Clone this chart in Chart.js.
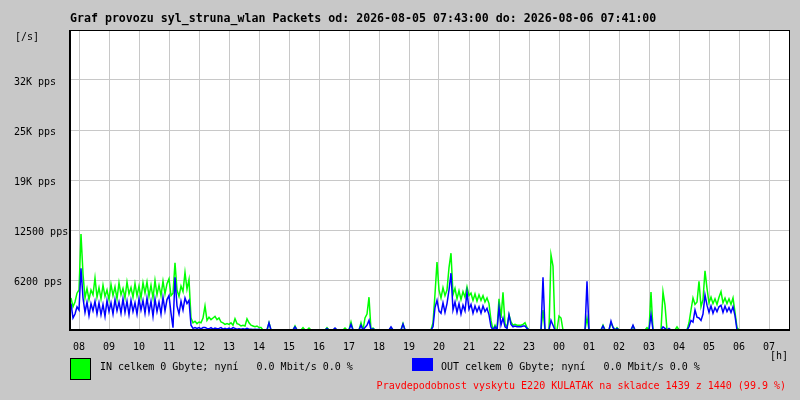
<!DOCTYPE html>
<html>
<head>
<meta charset="utf-8">
<script src="https://cdn.jsdelivr.net/npm/chart.js@4"></script>
<style>
  body { margin: 0; background: #c8c8c8; }
  canvas { display: block; }
</style>
</head>
<body>
<canvas id="trafficChart" width="800" height="400"></canvas>
<script>
// Chart data (packets per second, one sample every 4 minutes from 07:42)
const hourLabels = ['08', '09', '10', '11', '12', '13', '14', '15', '16', '17', '18', '19',
  '20', '21', '22', '23', '00', '01', '02', '03', '04', '05', '06', '07']
const yTickLabels = ['', '6200 pps', '12500 pps', '19K pps', '25K pps', '32K pps', '']

const inPackets = [
  4000, 2900, 3500, 4600, 5000, 12000, 7000, 4000, 5200, 3800,
  5000, 4400, 6500, 4100, 5300, 3900, 5600, 4200, 5000, 3800,
  5700, 4300, 5400, 3900, 5900, 4400, 5200, 4000, 6000, 4500,
  5300, 4100, 5800, 4300, 5500, 4000, 5900, 4600, 6000, 4200,
  5600, 4000, 6200, 4400, 5600, 4300, 6100, 4500, 5800, 6400,
  4300, 4600, 8400, 5000, 4200, 5500, 4800, 7200, 5100, 6300,
  1500, 900, 1100, 800, 1000, 900, 1500, 3000, 1200, 1600,
  1300, 1500, 1700, 1300, 1500, 1000, 900, 700, 800, 700,
  900, 600, 1400, 800, 700, 500, 600, 500, 1400, 900,
  600, 500, 400, 500, 300, 300, 0, 0, 0, 900,
  0, 0, 0, 0, 0, 0, 0, 0, 0, 0,
  0, 0, 500, 0, 0, 0, 300, 0, 0, 250,
  0, 0, 0, 0, 0, 0, 0, 0, 300, 0,
  0, 0, 200, 0, 0, 0, 0, 250, 0, 0,
  1000, 0, 0, 0, 0, 900, 0, 1500, 2000, 4100,
  0, 250, 0, 0, 0, 0, 0, 0, 0, 0,
  300, 0, 0, 0, 0, 0, 800, 0, 0, 0,
  0, 0, 0, 0, 0, 0, 0, 0, 0, 0,
  0, 900, 4500, 8500, 5000, 4000, 5300, 4300, 5000, 7800,
  9600, 4400, 5200, 3900, 4900, 3800, 4800, 4100, 5400, 4300,
  4600, 3700, 4500, 3600, 4400, 3700, 4300, 3500, 4000, 3300,
  1200, 0, 600, 0, 3900, 1500, 4700, 800, 300, 1900,
  1000, 600, 700, 600, 600, 600, 700, 900, 300, 0,
  0, 0, 0, 0, 0, 0, 2500, 0, 0, 0,
  9400, 8000, 0, 0, 1750, 1500, 0, 0, 0, 0,
  0, 0, 0, 0, 0, 0, 0, 0, 1500, 0,
  0, 0, 0, 0, 0, 0, 600, 0, 0, 0,
  900, 400, 0, 300, 0, 0, 0, 0, 0, 0,
  0, 500, 0, 0, 0, 0, 0, 0, 300, 0,
  4750, 0, 0, 0, 0, 0, 4750, 3100, 0, 0,
  0, 0, 0, 400, 0, 0, 0, 0, 0, 900,
  2500, 4000, 3200, 3500, 6100, 2900, 3800, 7400, 5200, 3400,
  4100, 3300, 3900, 3200, 4100, 4800, 3400, 4000, 3300, 3900,
  3200, 4000, 2200, 300, 0, 0, 0, 0, 0, 0,
  0, 0, 0, 0, 0, 0, 0, 0, 0, 0,
  0, 0, 0, 0, 0, 0, 0, 0, 0, 0
]

const outPackets = [
  3300, 1500, 2000, 2900, 2500, 7700, 4000, 2200, 3500, 1800,
  3300, 2400, 3600, 2000, 3400, 1900, 3200, 1700, 3700, 2300,
  3400, 2000, 3800, 2400, 3500, 2100, 3900, 2200, 3600, 1900,
  3700, 2300, 3400, 2000, 3900, 2500, 3700, 2100, 4000, 2200,
  3600, 1700, 3900, 2300, 3500, 2000, 4100, 2400, 3800, 4300,
  2100, 300, 6600, 3000, 2000, 3600, 2500, 4000, 3300, 3700,
  600, 200, 300, 200, 300, 150, 300, 300, 200, 150,
  300, 100, 250, 150, 200, 300, 100, 200, 100, 250,
  100, 300, 200, 100, 150, 100, 150, 100, 200, 100,
  100, 50, 100, 50, 100, 0, 0, 0, 0, 900,
  0, 0, 0, 0, 0, 0, 0, 0, 0, 0,
  0, 0, 400, 0, 0, 0, 0, 0, 0, 0,
  0, 0, 0, 0, 0, 0, 0, 0, 200, 0,
  0, 0, 250, 0, 0, 0, 0, 0, 0, 0,
  700, 0, 0, 0, 0, 600, 0, 300, 600, 1200,
  0, 150, 0, 0, 0, 0, 0, 0, 0, 0,
  400, 0, 0, 0, 0, 0, 750, 0, 0, 0,
  0, 0, 0, 0, 0, 0, 0, 0, 0, 0,
  0, 400, 2800, 3700, 2400, 2100, 3400, 2200, 3300, 5000,
  7100, 2500, 3500, 2200, 3300, 2000, 3100, 2400, 4700, 2600,
  3200, 2100, 3000, 2300, 2900, 2100, 3000, 2300, 2700, 1900,
  400, 0, 400, 0, 2800, 600, 1500, 400, 200, 1900,
  700, 400, 500, 400, 400, 400, 500, 500, 200, 0,
  0, 0, 0, 0, 0, 0, 6600, 0, 0, 0,
  1200, 600, 0, 0, 0, 0, 0, 0, 0, 0,
  0, 0, 0, 0, 0, 0, 0, 0, 6100, 0,
  0, 0, 0, 0, 0, 0, 500, 0, 0, 0,
  1100, 300, 0, 200, 0, 0, 0, 0, 0, 0,
  0, 600, 0, 0, 0, 0, 0, 0, 0, 0,
  1900, 0, 0, 0, 0, 0, 400, 200, 0, 200,
  0, 0, 0, 0, 0, 0, 0, 0, 0, 400,
  1200, 1000, 2500, 1600, 1500, 1200, 2000, 4400, 3100, 2200,
  3000, 2100, 2800, 2300, 2900, 3100, 2200, 3000, 2300, 2800,
  2200, 2900, 1800, 0, 0, 0, 0, 0, 0, 0,
  0, 0, 0, 0, 0, 0, 0, 0, 0, 0,
  0, 0, 0, 0, 0, 0, 0, 0, 0, 0
]

const sampleStep = 4       // minutes per sample
const firstHourOffset = 18 // 08:00 is 18 minutes after the graph start
const yMax = 37500
const yStep = 6250

const titleText = 'Graf provozu syl_struna_wlan Packets od: 2026-08-05 07:43:00 do: 2026-08-06 07:41:00'
const inLegend = 'IN celkem 0 Gbyte; nyní   0.0 Mbit/s 0.0 %'
const outLegend = 'OUT celkem 0 Gbyte; nyní   0.0 Mbit/s 0.0 %'
const noteText = 'Pravdepodobnost vyskytu E220 KULATAK na skladce 1439 z 1440 (99.9 %)'

const mono = 'DejaVu Sans Mono'

document.addEventListener('DOMContentLoaded', function() {
  const toPoints = arr => arr.map((v, i) => ({ x: i * sampleStep + sampleStep / 2, y: v }))

  // white plot area, black frame, title and legend texts
  const mrtgDecor = {
    id: 'mrtgDecor',
    beforeDraw(chart) {
      const { ctx, chartArea: a } = chart
      ctx.save()
      ctx.fillStyle = '#ffffff'
      ctx.fillRect(a.left, a.top, a.right - a.left, a.bottom - a.top)
      ctx.restore()
    },
    afterDraw(chart) {
      const { ctx, chartArea: a } = chart
      ctx.save()
      ctx.strokeStyle = '#000000'
      ctx.lineWidth = 1
      ctx.strokeRect(a.left + 0.5, a.top + 0.5, a.right - a.left - 1, a.bottom - a.top)
      ctx.fillStyle = '#000000'
      ctx.fillRect(a.left - 1, a.top, 2, a.bottom - a.top + 1)
      ctx.fillRect(a.left, a.bottom - 1, a.right - a.left, 2)

      ctx.textBaseline = 'middle'
      ctx.font = 'bold 11.6px "' + mono + '"'
      ctx.fillText(titleText, 70, 19)

      ctx.font = '10px "' + mono + '"'
      ctx.fillText('[/s]', 15, 37)
      ctx.fillText('[h]', 770, 356)

      // IN legend box
      ctx.fillStyle = '#00ff00'
      ctx.fillRect(70, 358, 21, 22)
      ctx.strokeStyle = '#000000'
      ctx.strokeRect(70.5, 358.5, 20, 21)
      ctx.fillStyle = '#000000'
      ctx.fillText(inLegend, 100, 367)

      // OUT legend box
      ctx.fillStyle = '#0000ff'
      ctx.fillRect(412, 358, 21, 13)
      ctx.fillStyle = '#000000'
      ctx.fillText(outLegend, 441, 367)

      ctx.fillStyle = '#ff0000'
      ctx.textAlign = 'right'
      ctx.fillText(noteText, 786, 386)
      ctx.restore()
    }
  }

  const ctx = document.getElementById('trafficChart').getContext('2d')

  new Chart(ctx, {
    type: 'line',
    data: {
      datasets: [{
        label: 'OUT',
        data: toPoints(outPackets),
        borderColor: '#0000ff',
        borderWidth: 1.5,
        pointRadius: 0,
        tension: 0,
        order: 1
      }, {
        label: 'IN',
        data: toPoints(inPackets),
        borderColor: '#00ff00',
        borderWidth: 1.5,
        pointRadius: 0,
        tension: 0,
        order: 2
      }]
    },
    options: {
      responsive: false,
      animation: false,
      events: [],
      layout: { padding: { top: 30, right: 10, bottom: 0, left: 14 } },
      plugins: {
        legend: { display: false },
        title: { display: false },
        tooltip: { enabled: false }
      },
      scales: {
        x: {
          type: 'linear',
          min: 0,
          max: hourLabels.length * 60,
          afterBuildTicks: scale => {
            scale.ticks = hourLabels.map((h, k) => ({ value: firstHourOffset + k * 60 }))
          },
          afterFit: scale => { scale.height = 70 },
          grid: { color: '#c8c8c8', lineWidth: 1, drawTicks: false },
          border: { display: false },
          ticks: {
            autoSkip: false,
            maxRotation: 0,
            padding: 11,
            color: '#000000',
            font: { family: mono, size: 10 },
            callback: (value, index) => hourLabels[index]
          }
        },
        y: {
          min: 0,
          max: yMax,
          afterFit: scale => { scale.width = 56 },
          grid: { color: '#c8c8c8', lineWidth: 1, drawTicks: false },
          border: { display: false },
          ticks: {
            stepSize: yStep,
            crossAlign: 'far',
            labelOffset: 2,
            color: '#000000',
            font: { family: mono, size: 10 },
            callback: (value, index) => yTickLabels[index]
          }
        }
      }
    },
    plugins: [mrtgDecor]
  })
})
</script>
</body>
</html>
